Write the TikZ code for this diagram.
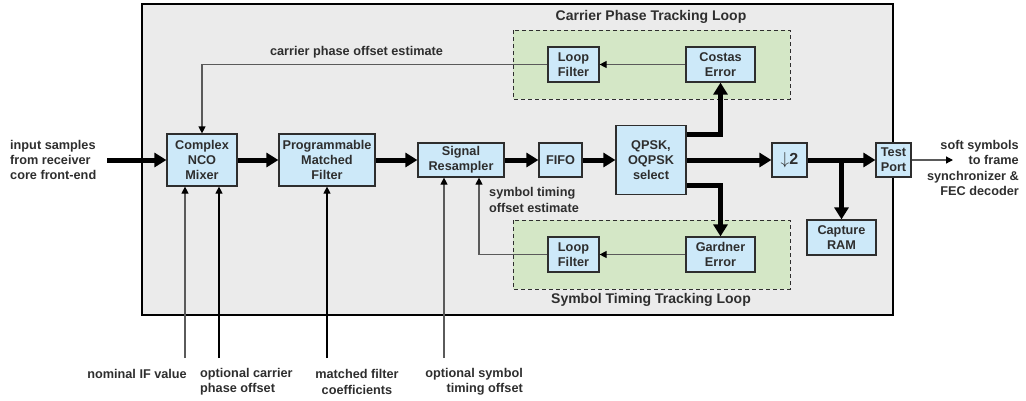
\documentclass[tikz,border=0pt]{standalone}
\usepackage{fontspec}
\setmainfont{Liberation Sans}
\usetikzlibrary{arrows.meta}

\definecolor{bgray}{HTML}{EBEBEB}
\definecolor{bblue}{HTML}{CDE9F9}
\definecolor{lgreen}{HTML}{D4E7C6}
\definecolor{ink}{HTML}{2E2E2E}
\definecolor{wire}{HTML}{5A5A5A}

\tikzset{
  blk/.style n args={2}{draw=ink, fill=bblue, line width=1.2pt, align=center,
    inner sep=0pt, minimum width=#1pt, minimum height=#2pt,
    font=\fontsize{12.7}{15.3}\selectfont\bfseries, text=ink},
  lbl/.style={inner sep=0pt, text=ink, font=\fontsize{12.7}{15.3}\selectfont\bfseries},
  ttl/.style={lbl, font=\fontsize{14}{16}\selectfont\bfseries},
  bus/.style={line width=5pt, line join=miter, -{Triangle[length=12pt,width=14pt]}},
  sig/.style={draw=wire, line width=1.2pt, -{Triangle[length=7pt,width=7pt,color=black]}},
  loopbox/.style={draw=ink, fill=lgreen, line width=1pt, dash pattern=on 4pt off 3pt}
}

\begin{document}
\begin{tikzpicture}[x=1pt,y=-1pt]
  \useasboundingbox (0,0) rectangle (1026,400);

  % receiver core and the two tracking loops
  \draw[fill=bgray, line width=1.3pt] (142,4) rectangle (893,315);
  \draw[loopbox] (513,30) rectangle (790,99);
  \draw[loopbox] (513,220) rectangle (790,289);
  \node[ttl] (cptl) at (651,17) {Carrier Phase Tracking Loop};
  \node[ttl] (sttl) at (651,300) {Symbol Timing Tracking Loop};

  % main data path
  \node[blk={70}{52}] (cnco)   at (202,160)   {Complex\\NCO\\Mixer};
  \node[blk={96}{52}] (pmf)    at (327,160)   {Programmable\\Matched\\Filter};
  \node[blk={86}{34}] (resamp) at (461,160)   {Signal\\Resampler};
  \node[blk={43}{34}] (fifo)   at (560.5,160) {FIFO};
  \node[blk={70}{69}] (qpsk)   at (651,160)   {QPSK,\\OQPSK\\select};
  \node[blk={35}{34}] (dec)    at (789.5,160)
    {\fontsize{16}{16}\selectfont$\downarrow$2};
  \node[blk={35}{34}] (test)   at (893.5,160) {Test\\Port};
  \node[blk={69}{35}] (ram)    at (841.5,237.5) {Capture\\RAM};

  % loop blocks
  \node[blk={51}{35}] (clf)     at (573.5,64.5)  {Loop\\Filter};
  \node[blk={69}{35}] (costas)  at (720.5,64.5)  {Costas\\Error};
  \node[blk={51}{35}] (glf)     at (573.5,254.5) {Loop\\Filter};
  \node[blk={69}{35}] (gardner) at (720.5,254.5) {Gardner\\Error};

  % input and output
  \node[lbl, anchor=west, align=left] (insrc) at (10,160)
    {input samples\\from receiver\\core front-end};
  \coordinate (src) at (107,160);
  \coordinate (snk) at (953,160);
  \node[lbl, anchor=east, align=right] (outsnk) at (1019,168)
    {soft symbols\\to frame\\synchronizer \&\\FEC decoder};

  \draw[bus] (src) -- (cnco);
  \foreach \a/\b in {cnco/pmf, pmf/resamp, resamp/fifo, fifo/qpsk, qpsk/dec, dec/test}
    \draw[bus] (\a) -- (\b);
  \draw[bus] ([yshift=-10pt]qpsk.north east) -| (costas);
  \draw[bus] ([yshift=10pt]qpsk.south east) -| (gardner);
  \draw[bus] (ram |- dec) -- (ram);
  \draw[sig] (test) -- (snk);

  % feedback
  \draw[sig] (costas) -- (clf);
  \draw[sig] (clf.west) -| (cnco);
  \node[lbl] (cpoe) at (356.5,52) {carrier phase offset estimate};
  \draw[sig] (gardner) -- (glf);
  \draw[sig] (glf.west) -| ([xshift=18pt]resamp.south);
  \node[lbl, anchor=west, align=left] (stoe) at (489,200)
    {symbol timing\\offset estimate};

  % control inputs from below
  \foreach \n/\x in {ifv/185, cph/219, mfc/327, sto/444}
    \coordinate (\n) at (\x,358);
  \draw[sig] (ifv) -- (ifv |- cnco.south);
  \draw[sig, draw=black] (cph) -- (cph |- cnco.south);
  \draw[sig, draw=black] (mfc) -- (mfc |- pmf.south);
  \draw[sig] (sto) -- (sto |- resamp.south);

  \node[lbl, anchor=east] (ifvl) at (187,374) {nominal IF value};
  \node[lbl, anchor=west, align=left] (cphl) at (200,382)
    {optional carrier\\phase offset};
  \node[lbl, align=center] (mfcl) at (357,382)
    {matched filter\\coefficients};
  \node[lbl, anchor=east, align=right] (stol) at (523,382)
    {optional symbol\\timing offset};
\end{tikzpicture}
\end{document}
